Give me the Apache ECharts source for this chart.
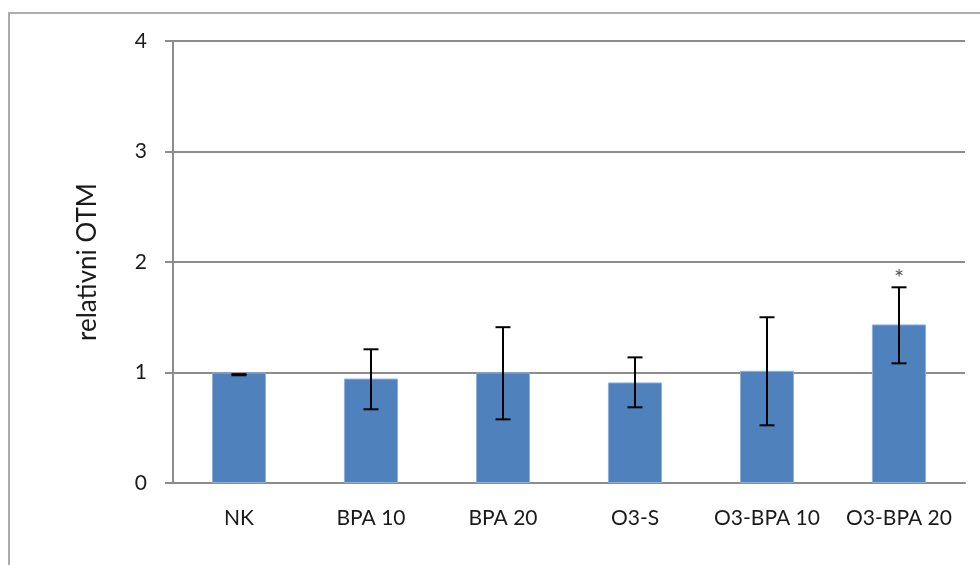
<!DOCTYPE html>
<html>
<head>
<meta charset="utf-8">
<script src="https://cdn.jsdelivr.net/npm/echarts@6/dist/echarts.min.js"></script>
<style>
  html, body { margin: 0; padding: 0; background: #fff; }
  #chart { width: 980px; height: 565px; }
</style>
</head>
<body>
<div id="chart"></div>
<script>
// data
const categories = ['NK', 'BPA 10', 'BPA 20', 'O3-S', 'O3-BPA 10', 'O3-BPA 20'];
const means = [1.0, 0.945, 1.0, 0.91, 1.015, 1.435];
const errLow = [0.975, 0.667, 0.576, 0.685, 0.522, 1.083];
const errHigh = [0.985, 1.21, 1.41, 1.137, 1.50, 1.771];
const sigMarks = ['', '', '', '', '', '*'];
const yTicks = [0, 1, 2, 3, 4];

const chart = echarts.init(document.getElementById('chart'));

const errData = categories.map((c, i) => [i, errLow[i], errHigh[i], sigMarks[i]]);

chart.setOption({
  animation: false,
  textStyle: { fontFamily: 'Lato, "Open Sans", sans-serif' },
  graphic: [{
    type: 'rect',
    shape: { x: 9, y: 13, width: 1000, height: 600 },
    style: { fill: 'none', stroke: '#adadad', lineWidth: 2 },
    silent: true
  }],
  grid: { left: 173, right: 15, top: 41, bottom: 82 },
  xAxis: {
    type: 'category',
    data: categories,
    axisLine: { lineStyle: { color: '#8c8c8c', width: 2 } },
    axisTick: { length: 11, lineStyle: { color: '#8c8c8c', width: 2 } },
    axisLabel: { color: '#1a1a1a', fontSize: 21, margin: 25, interval: 0 }
  },
  yAxis: {
    type: 'value',
    min: yTicks[0],
    max: yTicks[yTicks.length - 1],
    interval: 1,
    name: 'relativni OTM',
    nameLocation: 'middle',
    nameGap: 72,
    nameTextStyle: { color: '#1a1a1a', fontSize: 26 },
    axisLine: { show: true, lineStyle: { color: '#8c8c8c', width: 2 } },
    axisTick: { show: true, length: 8, lineStyle: { color: '#8c8c8c', width: 2 } },
    axisLabel: { color: '#1a1a1a', fontSize: 21, margin: 26 },
    splitLine: { lineStyle: { color: '#8c8c8c', width: 2 } }
  },
  series: [
    {
      type: 'bar',
      data: means,
      barWidth: '41%',
      itemStyle: { color: '#4f81bd', borderColor: '#8fb0d9', borderWidth: 1 }
    },
    {
      type: 'custom',
      data: errData,
      z: 10,
      renderItem: function (params, api) {
        const x = api.coord([api.value(0), 0])[0];
        const lo = api.coord([api.value(0), api.value(1)])[1];
        const hi = api.coord([api.value(0), api.value(2)])[1];
        const half = 7.5;
        const style = { stroke: '#000', lineWidth: 2 };
        const children = [
          { type: 'line', shape: { x1: x, y1: hi, x2: x, y2: lo }, style: style },
          { type: 'line', shape: { x1: x - half, y1: hi, x2: x + half, y2: hi }, style: style },
          { type: 'line', shape: { x1: x - half, y1: lo, x2: x + half, y2: lo }, style: style }
        ];
        const mark = errData[params.dataIndex][3];
        if (mark) {
          children.push({
            type: 'text',
            style: {
              text: mark, x: x, y: hi - 9,
              align: 'center', verticalAlign: 'middle',
              fill: '#555', fontSize: 24,
              fontFamily: 'Lato, sans-serif'
            }
          });
        }
        return { type: 'group', children: children };
      }
    }
  ]
});
</script>
</body>
</html>
